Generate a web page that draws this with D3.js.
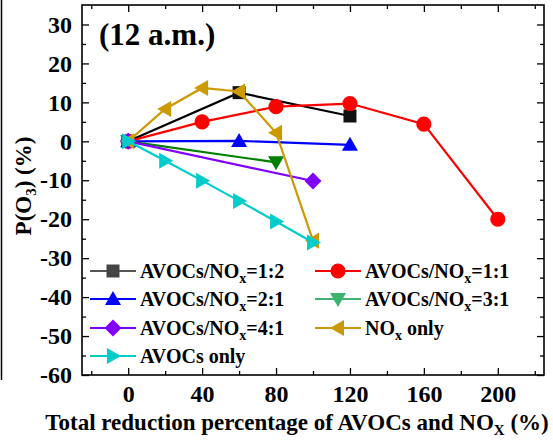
<!DOCTYPE html>
<html><head><meta charset="utf-8">
<script src="https://cdn.jsdelivr.net/npm/d3@7"></script>
<style>body{margin:0;background:#fff}svg{display:block}</style>
</head><body><div id="chart"></div>
<script>
const seriesNames = ["AVOCs/NOx=1:2","AVOCs/NOx=1:1","AVOCs/NOx=2:1","AVOCs/NOx=3:1","AVOCs/NOx=4:1","NOx only","AVOCs only"];
const xRatio12 = [0,60,120];           const yRatio12 = [0,12.5,6.5];
const xRatio11 = [0,40,80,120,160,200]; const yRatio11 = [0,5,8.9,9.7,4.4,-20];
const xRatio21 = [0,60,120];           const yRatio21 = [0,0.1,-0.9];
const xRatio31 = [0,80];               const yRatio31 = [0,-5.4];
const xRatio41 = [0,100];              const yRatio41 = [0,-10.2];
const xNOx = [0,20,40,60,80,100];      const yNOx = [0,8.3,13.7,12.8,2.2,-25.5];
const xAVOC = [0,20,40,60,80,100];     const yAVOC = [0,-5,-10.1,-15.3,-20.6,-26];
const xTicks = [0,40,80,120,160,200];
const yTicks = [-60,-50,-40,-30,-20,-10,0,10,20,30];

const W=553,H=440;
const FONT='Liberation Serif';
const svg=d3.select("#chart").append("svg").attr("width",W).attr("height",H)
  .attr("font-family",FONT).attr("font-weight","bold");
const x=d3.scaleLinear().domain([-25,225]).range([82,544]);
const y=d3.scaleLinear().domain([-60,35]).range([375,5]);

const series=[
 {name:seriesNames[0],xs:xRatio12,ys:yRatio12,line:"#000",fill:"#111",lline:"#555",lfill:"#444",sym:"square"},
 {name:seriesNames[1],xs:xRatio11,ys:yRatio11,line:"#ff0000",fill:"#ff0000",lline:"#ff0000",lfill:"#ff0000",sym:"circle"},
 {name:seriesNames[2],xs:xRatio21,ys:yRatio21,line:"#0000ff",fill:"#0000ff",lline:"#0000ff",lfill:"#0000ff",sym:"up"},
 {name:seriesNames[3],xs:xRatio31,ys:yRatio31,line:"#008000",fill:"#008000",lline:"#3cb371",lfill:"#3cb371",sym:"down"},
 {name:seriesNames[4],xs:xRatio41,ys:yRatio41,line:"#8000ff",fill:"#8000ff",lline:"#8000ff",lfill:"#8000ff",sym:"diamond"},
 {name:seriesNames[5],xs:xNOx,ys:yNOx,line:"#cc9900",fill:"#cc9900",lline:"#cc9900",lfill:"#cc9900",sym:"left"},
 {name:seriesNames[6],xs:xAVOC,ys:yAVOC,line:"#00cccc",fill:"#00cccc",lline:"#00cccc",lfill:"#00cccc",sym:"right"}
];

function symPath(sym){
  const s=8;
  switch(sym){
    case "square": return `M${-6.5},${-6.5}h13v13h-13Z`;
    case "circle": return d3.symbol(d3.symbolCircle,180)();
    case "up": return `M0,${-s}L${s},${s*0.75}L${-s},${s*0.75}Z`;
    case "down": return `M0,${s}L${s},${-s*0.75}L${-s},${-s*0.75}Z`;
    case "left": return `M${-s},0L${s*0.75},${-s}L${s*0.75},${s}Z`;
    case "right": return `M${s},0L${-s*0.75},${-s}L${-s*0.75},${s}Z`;
    case "diamond": return `M0,${-8.5}L8.5,0L0,8.5L-8.5,0Z`;
  }
}

svg.append("line").attr("x1",1.5).attr("x2",1.5).attr("y1",0).attr("y2",380).attr("stroke","#000").attr("stroke-width",1.5);

const minorX=d3.range(-20,225,40), minorY=d3.range(-55,35,10);
function addAxis(axisFn, scale, ticks, minor, tr, labels){
  const g=svg.append("g").attr("transform",tr);
  g.call(axisFn(scale).tickValues(ticks).tickSize(-7).tickPadding(labels?10:0).tickFormat(labels?(d=>String(d)):""));
  const gm=svg.append("g").attr("transform",tr);
  gm.call(axisFn(scale).tickValues(minor).tickSize(-4).tickFormat(""));
  [g,gm].forEach(k=>{k.attr("font-family",FONT).attr("font-weight","bold");k.select(".domain").remove();k.selectAll("line").attr("stroke","#000").attr("stroke-width",1.3);});
  g.attr("font-size",24);
  g.selectAll("text").attr("font-family",FONT).attr("font-weight","bold").attr("fill","#000");
  return g;
}
const gb=addAxis(d3.axisBottom,x,xTicks,minorX,"translate(0,375)",true);
addAxis(d3.axisTop,x,xTicks,minorX,"translate(0,5)",false);
const gl=addAxis(d3.axisLeft,y,yTicks,minorY,"translate(82,0)",true);
addAxis(d3.axisRight,y,yTicks,minorY,"translate(544,0)",false);
svg.append("rect").attr("x",82).attr("y",5).attr("width",462).attr("height",370).attr("fill","none").attr("stroke","#000").attr("stroke-width",1.6);

const line=d3.line().x(d=>x(d[0])).y(d=>y(d[1]));
series.forEach(s=>{
  const pts=s.xs.map((v,i)=>[v,s.ys[i]]);
  svg.append("path").attr("d",line(pts)).attr("fill","none").attr("stroke",s.line).attr("stroke-width",2.2);
  svg.selectAll(null).data(pts).enter().append("path")
    .attr("d",symPath(s.sym)).attr("transform",d=>`translate(${x(d[0])},${y(d[1])})`).attr("fill",s.fill);
});

svg.append("text").attr("x",99).attr("y",45).attr("font-size",31).text("(12 a.m.)");

const legX=[90,315], legY=[271,299,328,356];
series.forEach((s,i)=>{
  const cx=legX[i%2], cy=legY[Math.floor(i/2)];
  const g=svg.append("g").attr("transform",`translate(${cx},${cy})`);
  g.append("line").attr("x1",0).attr("x2",46).attr("stroke",s.lline).attr("stroke-width",2.2);
  g.append("path").attr("d",symPath(s.sym)).attr("transform","translate(23,0)").attr("fill",s.lfill);
  const t=g.append("text").attr("x",50).attr("y",7).attr("font-size",20);
  if(s.name.includes("NOx")){
    const parts=s.name.split("NOx");
    t.append("tspan").text(parts[0]+"NO");
    t.append("tspan").attr("dy",5).attr("font-size",14).text("x");
    t.append("tspan").attr("dy",-5).text(parts[1]);
  } else t.text(s.name);
});

const xt=svg.append("text").attr("x",297).attr("y",430).attr("text-anchor","middle").attr("font-size",23);
xt.append("tspan").text("Total reduction percentage of AVOCs and NO");
xt.append("tspan").attr("dy",5).attr("font-size",15).text("X");
xt.append("tspan").attr("dy",-5).text(" (%)");

const yt=svg.append("text").attr("transform","translate(31,186) rotate(-90)").attr("text-anchor","middle").attr("font-size",23);
yt.append("tspan").text("P(O");
yt.append("tspan").attr("dy",5).attr("font-size",15).text("3");
yt.append("tspan").attr("dy",-5).text(") (%)");
</script></body></html>
